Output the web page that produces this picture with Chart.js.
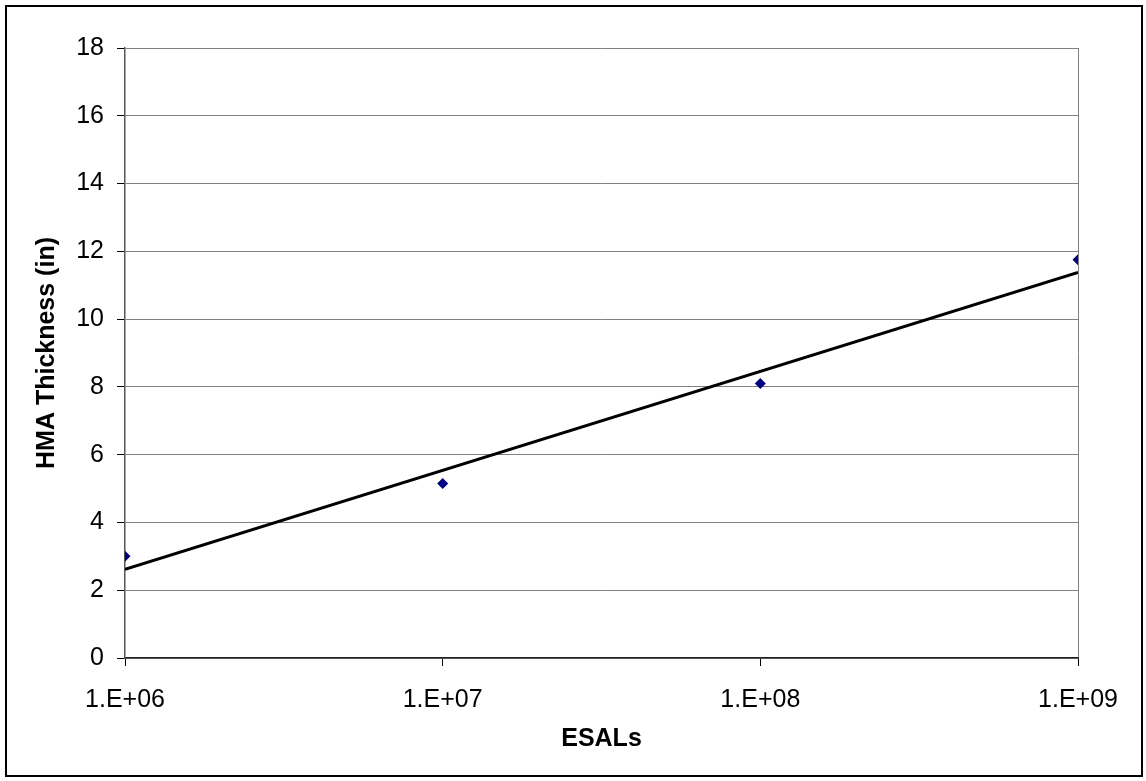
<!DOCTYPE html>
<html>
<head>
<meta charset="utf-8">
<script src="https://cdn.jsdelivr.net/npm/chart.js@4"></script>
<style>
  html, body { margin: 0; padding: 0; background: #fff; }
  canvas { display: block; }
</style>
</head>
<body>
<canvas id="c" width="1146" height="781"></canvas>
<script>
// ESAL levels and measured HMA thickness
const esals = [1e6, 1e7, 1e8, 1e9];
const thickness = [3.0, 5.15, 8.1, 11.75];

// Fitted trend line, value at each end of the range
const trendEsals = [1e6, 1e9];
const trendThickness = [2.62, 11.38];

// Axis ticks
const xTickValues = [1e6, 1e7, 1e8, 1e9];
const xTickLabels = ['1.E+06', '1.E+07', '1.E+08', '1.E+09'];
const yMin = 0, yMax = 18, yStep = 2;

const FONT = '"Liberation Sans", Arial, sans-serif';

const frame = {
  id: 'frame',
  beforeDraw(chart) {
    const ctx = chart.ctx;
    ctx.save();
    ctx.fillStyle = '#fff';
    ctx.fillRect(0, 0, chart.width, chart.height);
    ctx.restore();
  },
  afterDraw(chart) {
    const ctx = chart.ctx;
    ctx.save();
    ctx.strokeStyle = '#000';
    ctx.lineWidth = 2;
    ctx.strokeRect(6, 6, 1136, 770);
    ctx.restore();
  }
};

new Chart(document.getElementById('c'), {
  type: 'scatter',
  data: {
    datasets: [
      {
        label: 'HMA Thickness',
        data: esals.map((x, i) => ({ x: x, y: thickness[i] })),
        pointStyle: 'rectRot',
        pointRadius: 5.5,
        pointBackgroundColor: '#000080',
        pointBorderColor: '#000080',
        pointBorderWidth: 0,
        showLine: false,
        order: 1
      },
      {
        label: 'Trend',
        type: 'line',
        data: trendEsals.map((x, i) => ({ x: x, y: trendThickness[i] })),
        borderColor: '#000',
        borderWidth: 3,
        pointRadius: 0,
        fill: false,
        order: 2
      }
    ]
  },
  options: {
    responsive: false,
    animation: false,
    layout: { padding: { left: 0, top: 48, right: 68, bottom: 0 } },
    plugins: { legend: { display: false }, tooltip: { enabled: false } },
    scales: {
      x: {
        type: 'logarithmic',
        min: 1e6,
        max: 1e9,
        afterBuildTicks: s => { s.ticks = xTickValues.map(v => ({ value: v })); },
        afterFit: s => { s.height = 123; },
        ticks: {
          callback: (v, i) => xTickLabels[i],
          color: '#000',
          font: { family: FONT, size: 25 },
          padding: 19,
          maxRotation: 0,
          autoSkip: false
        },
        grid: {
          color: c => (c.index === xTickValues.length - 1 ? '#808080' : 'rgba(0,0,0,0)'),
          tickColor: '#000',
          tickLength: 8,
          lineWidth: 1
        },
        border: { display: true, color: '#222', width: 1.5 },
        title: {
          display: true,
          text: 'ESALs',
          color: '#000',
          font: { family: FONT, size: 25, weight: 'bold' },
          padding: { top: 0, bottom: 27 }
        }
      },
      y: {
        min: yMin,
        max: yMax,
        afterFit: s => { s.width = 125; },
        ticks: {
          stepSize: yStep,
          color: '#000',
          font: { family: FONT, size: 25 },
          padding: 13
        },
        grid: {
          color: '#808080',
          tickColor: '#000',
          tickLength: 8,
          lineWidth: 1
        },
        border: { display: true, color: '#555', width: 1.5 },
        title: {
          display: true,
          text: 'HMA Thickness (in)',
          color: '#000',
          font: { family: FONT, size: 25, weight: 'bold' },
          padding: { top: 32, bottom: 0 }
        }
      }
    }
  },
  plugins: [frame]
});
</script>
</body>
</html>
